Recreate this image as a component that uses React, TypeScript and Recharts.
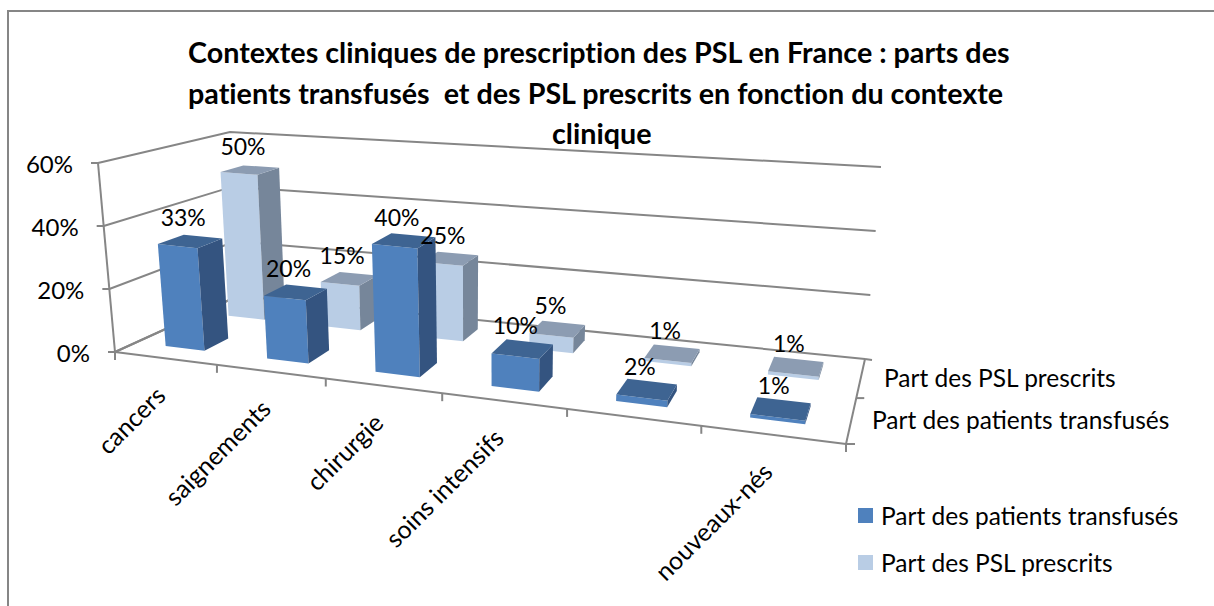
import React from "react";
import { BarChart, Bar, XAxis, YAxis, CartesianGrid, LabelList, Legend } from "recharts";

const CATEGORIES = ["cancers", "saignements", "chirurgie", "soins intensifs", "", "nouveaux-nés"];
const TRANSFUSES = [33, 20, 40, 10, 2, 1];
const PRESCRITS = [50, 15, 25, 5, 1, 1];
const Y_TICKS = [0, 20, 40, 60];
const SERIES_NAMES = ["Part des patients transfusés", "Part des PSL prescrits"];
const TITLE_LINES = [
  "Contextes cliniques de prescription des PSL en France : parts des",
  "patients transfusés  et des PSL prescrits en fonction du contexte",
  "clinique",
];
const TITLE_LEFT = [188, 188, 552];

const data = CATEGORIES.map((name, i) => ({
  name: name,
  key: i,
  transfuses: TRANSFUSES[i],
  prescrits: PRESCRITS[i],
}));

const FONT = "Lato, sans-serif";
const W = 1214;
const H = 606;
// recharts works in a flat 1000x400 plot, everything is then projected on the 3D box
const PLOT = { left: 100, top: 100, width: 1000, height: 400 };
const Y_MAX = 60;

const COLORS = {
  front: { face: "#4f81bd", side: "#345480", top: "#3e6492" },
  back: { face: "#b9cde5", side: "#76869a", top: "#8c9cb2" },
};
const GRID = "#868686";
// depth range of each row on the floor
const ROWS = { front: [0.17, 0.38], back: [0.7, 0.88] };

// corners of the box: [bottom, top]
const FL = [[115, 352], [98, 163]];
const FR = [[846, 444], [860, 236]];
const BL = [[238, 296], [230, 132]];
const BR = [[865, 359], [881, 167]];

const lerp = (a: number, b: number, t: number) => a + (b - a) * t;

// t: 0-1 along categories, d: 0-1 depth, h: 0-1 height
function project(t: number, d: number, h: number): [number, number] {
  const u = t / (t + 1.234 * (1 - t));
  const out = [0, 1].map((k) => {
    const bottom = lerp(lerp(FL[0][k], FR[0][k], u), lerp(BL[0][k], BR[0][k], u), d);
    const top = lerp(lerp(FL[1][k], FR[1][k], u), lerp(BL[1][k], BR[1][k], u), d);
    return lerp(bottom, top, h);
  });
  return [out[0], out[1]];
}

const toT = (x: number) => (x - PLOT.left) / PLOT.width;
const toH = (y: number) => (PLOT.top + PLOT.height - y) / PLOT.height;
const pts = (list: [number, number][]) => list.map((p) => p.join(",")).join(" ");

function Bar3D(props: any) {
  const { x, y, width, row } = props;
  const t0 = toT(x);
  const t1 = toT(x + width);
  const h = toH(y);
  const [d0, d1] = ROWS[row as "front" | "back"];
  const c = COLORS[row as "front" | "back"];
  const a = project(t0, d0, 0);
  const b = project(t1, d0, 0);
  const e = project(t1, d1, 0);
  const ta = project(t0, d0, h);
  const tb = project(t1, d0, h);
  const te = project(t1, d1, h);
  const tf = project(t0, d1, h);
  return (
    <g>
      <polygon points={pts([a, b, tb, ta])} fill={c.face} />
      <polygon points={pts([b, e, te, tb])} fill={c.side} />
      <polygon points={pts([ta, tb, te, tf])} fill={c.top} />
    </g>
  );
}

function barLabel(row: "front" | "back") {
  return (props: any) => {
    const { x, y, width, value } = props;
    const [d0, d1] = ROWS[row];
    const p = project(toT(x + width / 2), (d0 + d1) / 2, toH(y));
    return (
      <text x={p[0] - 7} y={p[1] - 15} textAnchor="middle" fontSize={23} fontFamily={FONT} fill="#000">
        {value}%
      </text>
    );
  };
}

function gridLine(props: any) {
  const h = toH(props.y1);
  return (
    <polyline
      key={props.key ?? props.y1}
      points={pts([project(0, 0, h), project(0, 1, h), project(1, 1, h)])}
      fill="none"
      stroke={GRID}
      strokeWidth={2}
    />
  );
}

function YTick(props: any) {
  const { y, payload } = props;
  const p = project(0, 0, toH(y));
  return (
    <g>
      <line x1={p[0] - 7} y1={p[1]} x2={p[0]} y2={p[1]} stroke={GRID} strokeWidth={2} />
      <text x={p[0] - 25} y={p[1] + 10} textAnchor="end" fontSize={24} fontFamily={FONT} fill="#000">
        {payload.value}%
      </text>
    </g>
  );
}

function XTick(props: any) {
  const { x, payload, index } = props;
  const t = toT(x);
  const mid = project(t, 0, 0);
  const edge = project((index + 1) / CATEGORIES.length, 0, 0);
  const lx = mid[0] + 2;
  const ly = mid[1] + 39;
  return (
    <g>
      {index === 0 && <line x1={115} y1={352} x2={115} y2={360} stroke={GRID} strokeWidth={2} />}
      <line x1={edge[0]} y1={edge[1]} x2={edge[0]} y2={edge[1] + 8} stroke={GRID} strokeWidth={2} />
      <text
        x={lx}
        y={ly}
        textAnchor="end"
        fontSize={25}
        fontFamily={FONT}
        fill="#000"
        transform={`rotate(-45 ${lx} ${ly})`}
      >
        {CATEGORIES[payload.value]}
      </text>
    </g>
  );
}

// axis lines of the box and the series (depth) axis
function BoxFrame() {
  const mid = project(1, 0.54, 0);
  const lines = [
    [project(0, 0, 0), project(0, 0, 1)],
    [project(0, 0, 0), project(1, 0, 0)],
    [project(1, 0, 0), project(1, 1, 0)],
    [project(1, 1, 0), [872, 360]],
    [mid, [mid[0] + 8, mid[1]]],
    [project(1, 0, 0), [855, 444]],
    [project(0, 0, 0), project(0, 1, 0)],
  ];
  return (
    <g>
      {lines.map((l, i) => (
        <line key={i} x1={l[0][0]} y1={l[0][1]} x2={l[1][0]} y2={l[1][1]} stroke={GRID} strokeWidth={2} />
      ))}
      <text x={884} y={387} fontSize={24.5} fontFamily={FONT} fill="#000">{SERIES_NAMES[1]}</text>
      <text x={872} y={429} fontSize={24.5} fontFamily={FONT} fill="#000">{SERIES_NAMES[0]}</text>
    </g>
  );
}

function LegendBox() {
  const rows = [
    { name: SERIES_NAMES[0], color: COLORS.front.face },
    { name: SERIES_NAMES[1], color: COLORS.back.face },
  ];
  return (
    <div style={{ fontFamily: FONT, fontSize: 24.5, color: "#000" }}>
      {rows.map((r) => (
        <div key={r.name} style={{ display: "flex", alignItems: "center", height: 47, whiteSpace: "nowrap" }}>
          <span style={{ width: 15, height: 15, background: r.color, marginRight: 8 }} />
          {r.name}
        </div>
      ))}
    </div>
  );
}

export default function App() {
  return (
    <div style={{ position: "absolute", left: 0, top: 0, width: W, height: H, background: "#fff", overflow: "hidden" }}>
      <div
        style={{
          position: "absolute",
          left: 7,
          top: 10,
          width: 1300,
          height: 700,
          border: "2px solid #868686",
        }}
      />
      {TITLE_LINES.map((line, i) => (
        <div
          key={i}
          style={{
            position: "absolute",
            left: TITLE_LEFT[i],
            top: 32 + i * 40.5,
            fontFamily: FONT,
            fontWeight: 700,
            fontSize: 28.7,
            fontVariantLigatures: "none",
            lineHeight: "40px",
            color: "#000",
            whiteSpace: "pre",
          }}
        >
          {line}
        </div>
      ))}
      <div style={{ position: "absolute", left: 0, top: 0 }}>
        <BarChart
          width={W}
          height={H}
          data={data}
          margin={{ top: PLOT.top, left: PLOT.left - 40, right: W - PLOT.left - PLOT.width, bottom: H - PLOT.top - PLOT.height - 30 }}
          barSize={65}
          barGap={-65}
        >
          <CartesianGrid horizontal={gridLine} vertical={false} stroke={GRID} />
          <XAxis dataKey="key" type="category" height={30} axisLine={false} tickLine={false} tick={XTick} interval={0} />
          <YAxis width={40} domain={[0, Y_MAX]} ticks={Y_TICKS} axisLine={false} tickLine={false} tick={YTick} />
          <BoxFrame />
          <Bar dataKey="prescrits" name={SERIES_NAMES[1]} isAnimationActive={false} shape={(p: any) => <Bar3D {...p} row="back" />}>
            <LabelList dataKey="prescrits" content={barLabel("back")} />
          </Bar>
          <Bar dataKey="transfuses" name={SERIES_NAMES[0]} isAnimationActive={false} shape={(p: any) => <Bar3D {...p} row="front" />}>
            <LabelList dataKey="transfuses" content={barLabel("front")} />
          </Bar>
          <Legend
            layout="vertical"
            align="center"
            verticalAlign="middle"
            content={<LegendBox />}
            wrapperStyle={{ left: 858, top: 492, width: 340 }}
          />
        </BarChart>
      </div>
    </div>
  );
}
